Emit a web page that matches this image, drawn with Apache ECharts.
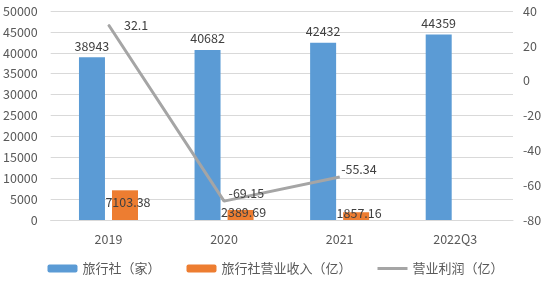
<!DOCTYPE html>
<html><head><meta charset="utf-8">
<script src="https://cdn.jsdelivr.net/npm/echarts@6/dist/echarts.min.js"></script>
<style>html,body{margin:0;padding:0;background:#fff}#c{width:551px;height:289px}</style>
</head><body><div id="c"></div>
<script>
const categories = ['2019', '2020', '2021', '2022Q3'];
const agencies = [38943, 40682, 42432, 44359];
const revenue = [7103.38, 2389.69, 1857.16, null];
const profit = [32.1, -69.15, -55.34, null];
const leftTicks = [0, 50000, 5000];
const rightTicks = [-80, 40, 20];

const profitOffsets = [[15, 0], [4, -8], [1, -8]];
const font = '"Noto Sans CJK SC", "Liberation Sans", sans-serif';
const chart = echarts.init(document.getElementById('c'));
chart.setOption({
  animation: false,
  textStyle: { fontFamily: font },
  grid: { left: 50, right: 38, top: 11, bottom: 69, containLabel: false },
  legend: {
    bottom: 9, left: 'center', itemWidth: 30, itemHeight: 8, itemGap: 26,
    symbolKeepAspect: true,
    textStyle: { fontSize: 13, color: '#595959', fontFamily: font },
    data: [
      { name: '旅行社（家）' },
      { name: '旅行社营业收入（亿）' },
      { name: '营业利润（亿）', icon: 'path://M0,0H30V3H0Z' }
    ]
  },
  xAxis: {
    type: 'category', data: categories,
    axisLine: { lineStyle: { color: '#d9d9d9' } },
    axisTick: { show: false },
    axisLabel: { color: '#595959', fontSize: 12.5, margin: 13, fontFamily: font }
  },
  yAxis: [
    { type: 'value', min: leftTicks[0], max: leftTicks[1], interval: leftTicks[2],
      axisLine: { show: false }, axisTick: { show: false },
      axisLabel: { color: '#595959', fontSize: 12.5, margin: 13, fontFamily: font, formatter: v => String(v) },
      splitLine: { lineStyle: { color: '#d9d9d9' } } },
    { type: 'value', min: rightTicks[0], max: rightTicks[1], interval: rightTicks[2],
      axisLine: { show: false }, axisTick: { show: false },
      axisLabel: { color: '#595959', fontSize: 12.5, margin: 10, fontFamily: font, formatter: v => String(v) },
      splitLine: { show: false } }
  ],
  series: [
    { name: '旅行社（家）', type: 'bar', data: agencies, barWidth: 26, barGap: '27%',
      itemStyle: { color: '#5B9BD5' },
      label: { show: true, position: 'top', color: '#404040', fontSize: 12.5, fontFamily: font } },
    { name: '旅行社营业收入（亿）', type: 'bar', data: revenue, barWidth: 26,
      itemStyle: { color: '#ED7D31' },
      label: { show: true, position: 'inside', offset: [3, -3], color: '#404040', fontSize: 12.5, fontFamily: font } },
    { name: '营业利润（亿）', type: 'line', yAxisIndex: 1,
      data: profit.map((v, i) => v === null ? null : { value: v, label: { offset: profitOffsets[i] } }),
      symbol: 'circle', symbolSize: 1, showSymbol: true,
      lineStyle: { color: '#A5A5A5', width: 3 }, itemStyle: { color: '#A5A5A5' },
      label: { show: true, position: 'right', distance: 0, color: '#404040', fontSize: 12.5, fontFamily: font } }
  ]
});
</script></body></html>
